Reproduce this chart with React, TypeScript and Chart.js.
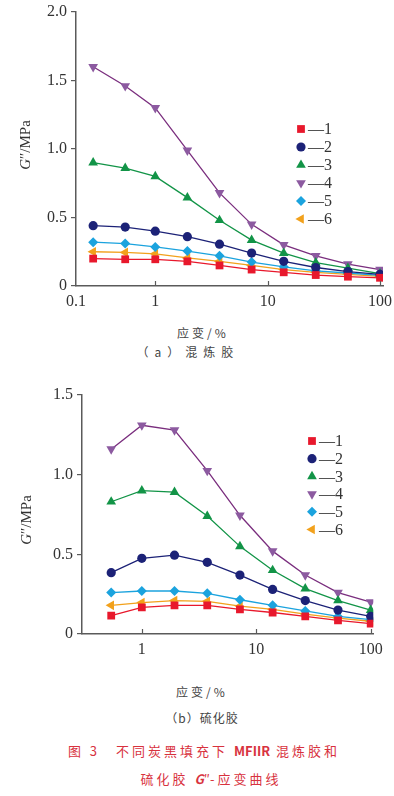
import React, { useEffect, useRef } from 'react';
import { Chart, registerables } from 'chart.js';
Chart.register(...registerables);

// ---- data ----
const strainMixed = [0.28, 0.54, 1, 1.93, 3.73, 7.2, 13.9, 26.8, 51.8, 100];
const strainCured = [0.54, 1, 1.93, 3.73, 7.2, 13.9, 26.8, 51.8, 100];
const sampleLabels = ['1', '2', '3', '4', '5', '6'];

const mixed1 = [0.2, 0.195, 0.195, 0.18, 0.15, 0.12, 0.1, 0.08, 0.068, 0.06];
const mixed2 = [0.44, 0.43, 0.4, 0.36, 0.305, 0.24, 0.18, 0.135, 0.105, 0.085];
const mixed3 = [0.9, 0.86, 0.8, 0.645, 0.48, 0.335, 0.24, 0.17, 0.13, 0.09];
const mixed4 = [1.6, 1.46, 1.3, 0.99, 0.68, 0.45, 0.3, 0.22, 0.16, 0.12];
const mixed5 = [0.32, 0.31, 0.285, 0.255, 0.22, 0.175, 0.14, 0.11, 0.095, 0.078];
const mixed6 = [0.25, 0.245, 0.235, 0.205, 0.18, 0.15, 0.12, 0.1, 0.085, 0.07];

const cured1 = [0.115, 0.167, 0.18, 0.18, 0.155, 0.135, 0.11, 0.085, 0.065];
const cured2 = [0.385, 0.475, 0.495, 0.45, 0.37, 0.28, 0.21, 0.15, 0.11];
const cured3 = [0.83, 0.9, 0.89, 0.74, 0.55, 0.4, 0.285, 0.21, 0.15];
const cured4 = [1.16, 1.31, 1.28, 1.025, 0.745, 0.52, 0.37, 0.26, 0.2];
const cured5 = [0.26, 0.27, 0.27, 0.255, 0.215, 0.18, 0.145, 0.11, 0.09];
const cured6 = [0.18, 0.197, 0.21, 0.205, 0.175, 0.155, 0.125, 0.1, 0.08];

const mixedXTickValues = [0.197, 1, 10, 100];
const mixedXTickLabels = ['0.1', '1', '10', '100'];
const curedXTickValues = [1, 10, 100];
const curedXTickLabels = ['1', '10', '100'];
const mixedYTickLabels = ['0', '0.5', '1.0', '1.5', '2.0'];
const curedYTickLabels = ['0', '0.5', '1.0', '1.5'];

// ---- styles ----
const seriesStyle = [
  { color: '#e8182c', line: '#e8182c', point: 'rect', rotation: 0, radius: 5.5 },
  { color: '#1c2277', line: '#1c2277', point: 'circle', rotation: 0, radius: 4.6 },
  { color: '#129447', line: '#129447', point: 'triangle', rotation: 0, radius: 5.6 },
  { color: '#8c5aa0', line: '#7a2e7e', point: 'triangle', rotation: 180, radius: 5.6 },
  { color: '#1ba3de', line: '#1ba3de', point: 'rectRot', rotation: 0, radius: 5 },
  { color: '#f2a11c', line: '#f2a11c', point: 'triangle', rotation: 270, radius: 5.6 },
];

const AXIS = '#5a5a5a';
const SERIF = '"Liberation Serif", "Times New Roman", serif';
const CJK = '"Noto Sans CJK SC", sans-serif';

function drawMarker(ctx: CanvasRenderingContext2D, s: any, x: number, y: number) {
  const r = s.radius;
  ctx.save();
  ctx.fillStyle = s.color;
  ctx.beginPath();
  if (s.point === 'rect') {
    const h = r * Math.SQRT1_2;
    ctx.rect(x - h, y - h, 2 * h, 2 * h);
  } else if (s.point === 'circle') {
    ctx.arc(x, y, r, 0, Math.PI * 2);
  } else if (s.point === 'rectRot') {
    ctx.moveTo(x, y - r);
    ctx.lineTo(x + r, y);
    ctx.lineTo(x, y + r);
    ctx.lineTo(x - r, y);
    ctx.closePath();
  } else {
    let rad = (s.rotation * Math.PI) / 180;
    for (let i = 0; i < 3; i++) {
      const px = x + Math.sin(rad) * r;
      const py = y - Math.cos(rad) * r;
      if (i === 0) ctx.moveTo(px, py);
      else ctx.lineTo(px, py);
      rad += (2 * Math.PI) / 3;
    }
    ctx.closePath();
  }
  ctx.fill();
  ctx.restore();
}

const customLegend = {
  id: 'customLegend',
  afterDraw(chart: any, _args: any, opts: any) {
    const ctx = chart.ctx as CanvasRenderingContext2D;
    ctx.save();
    ctx.font = `16px ${SERIF}`;
    ctx.fillStyle = '#333';
    ctx.textBaseline = 'middle';
    sampleLabels.forEach((lab, i) => {
      const y = opts.y + i * opts.gap;
      drawMarker(ctx, seriesStyle[i], opts.x, y);
      ctx.fillText('\u2014' + lab, opts.x + 7, y + 1);
    });
    ctx.restore();
  },
};

const innerTicks = {
  id: 'innerTicks',
  afterDraw(chart: any) {
    const xs = chart.scales.x;
    const ctx = chart.ctx as CanvasRenderingContext2D;
    const bottom = chart.chartArea.bottom;
    ctx.save();
    ctx.strokeStyle = AXIS;
    ctx.lineWidth = 1.2;
    xs.ticks.forEach((t: any) => {
      if (t.value <= xs.min * 1.05) return;
      const px = Math.round(xs.getPixelForValue(t.value)) + 0.5;
      ctx.beginPath();
      ctx.moveTo(px, bottom);
      ctx.lineTo(px, bottom - 5);
      ctx.stroke();
    });
    ctx.restore();
  },
};

function buildConfig(p: any) {
  const datasets = p.series.map((vals: number[], i: number) => {
    const s = seriesStyle[i];
    return {
      label: sampleLabels[i],
      data: vals.map((v, k) => ({ x: p.xs[k], y: v })),
      borderColor: s.line,
      backgroundColor: s.color,
      pointBackgroundColor: s.color,
      pointBorderColor: s.color,
      pointBorderWidth: 0,
      pointStyle: s.point,
      pointRotation: s.rotation,
      pointRadius: s.radius,
      borderWidth: 1.3,
      tension: 0,
    };
  });
  return {
    type: 'line',
    data: { datasets },
    plugins: [customLegend, innerTicks],
    options: {
      responsive: false,
      animation: false,
      devicePixelRatio: 1,
      layout: { padding: p.padding },
      plugins: {
        legend: { display: false },
        tooltip: { enabled: false },
        customLegend: p.legend,
      },
      scales: {
        x: {
          type: 'logarithmic',
          min: p.xMin,
          max: p.xMax,
          afterBuildTicks: (scale: any) => {
            scale.ticks = p.xTickValues.map((v: number) => ({ value: v }));
          },
          afterFit: (scale: any) => {
            scale.height = p.xHeight;
            scale.paddingLeft = 0;
            scale.paddingRight = 0;
          },
          grid: { display: false, drawTicks: false },
          border: { display: true, color: AXIS, width: 1.5 },
          ticks: {
            autoSkip: false,
            maxRotation: 0,
            padding: 6,
            color: '#333',
            font: { family: SERIF, size: 16 },
            callback: (_v: any, i: number) => p.xTickLabels[i],
          },
        },
        y: {
          min: 0,
          max: p.yMax,
          afterBuildTicks: (scale: any) => {
            scale.ticks = p.yTickLabels.map((_l: string, i: number) => ({ value: i * 0.5 }));
          },
          afterFit: (scale: any) => {
            scale.width = p.yWidth;
            scale.paddingTop = 0;
            scale.paddingBottom = 0;
          },
          grid: { drawOnChartArea: false, drawTicks: true, tickLength: 5, color: AXIS, lineWidth: 1.2 },
          border: { display: true, color: AXIS, width: 1.5 },
          ticks: {
            padding: 4,
            color: '#333',
            font: { family: SERIF, size: 16 },
            callback: (_v: any, i: number) => p.yTickLabels[i],
          },
        },
      },
    },
  };
}

function ChartCanvas({ top, height, params }: any) {
  const ref = useRef<HTMLCanvasElement | null>(null);
  useEffect(() => {
    if (!ref.current) return;
    const chart = new Chart(ref.current, buildConfig(params) as any);
    return () => chart.destroy();
  }, []);
  return (
    <canvas
      ref={ref}
      width={394}
      height={height}
      style={{ position: 'absolute', left: 0, top, width: 394, height }}
    />
  );
}

const mixedParams = {
  xs: strainMixed,
  series: [mixed1, mixed2, mixed3, mixed4, mixed5, mixed6],
  xMin: 0.197,
  xMax: 106.3,
  xTickValues: mixedXTickValues,
  xTickLabels: mixedXTickLabels,
  yMax: 2.0,
  yTickLabels: mixedYTickLabels,
  padding: { left: 0, top: 12, right: 11, bottom: 0 },
  yWidth: 76,
  xHeight: 24,
  legend: { x: 301, y: 129, gap: 18 },
};

const curedParams = {
  xs: strainCured,
  series: [cured1, cured2, cured3, cured4, cured5, cured6],
  xMin: 0.301,
  xMax: 105.4,
  xTickValues: curedXTickValues,
  xTickLabels: curedXTickLabels,
  yMax: 1.5,
  yTickLabels: curedYTickLabels,
  padding: { left: 0, top: 25, right: 20.7, bottom: 0 },
  yWidth: 82,
  xHeight: 36,
  legend: { x: 312, y: 71, gap: 17.7 },
};

const textAbs = (x: number, y: number, extra: any = {}) => ({
  position: 'absolute' as const,
  left: x,
  top: y,
  transform: 'translate(-50%, -50%)',
  whiteSpace: 'nowrap' as const,
  lineHeight: 1,
  ...extra,
});

export default function App() {
  useEffect(() => {
    document.body.style.margin = '0';
  }, []);
  const yTitle = (x: number, y: number) => (
    <div
      style={textAbs(x, y, {
        transform: 'translate(-50%, -50%) rotate(-90deg)',
        font: `15px ${SERIF}`,
        color: '#333',
      })}
    >
      <i>G</i>
      {'\u2033/MPa'}
    </div>
  );
  const xTitleStyle = { font: `12px ${CJK}`, letterSpacing: '3px', color: '#444' };
  const redStyle = { font: `13px ${CJK}`, letterSpacing: '3px', color: '#d8323e' };
  return (
    <div style={{ position: 'absolute', left: 0, top: 0, width: 394, height: 796, background: '#fff', overflow: 'hidden' }}>
      <ChartCanvas top={0} height={310} params={mixedParams} />
      <ChartCanvas top={370} height={300} params={curedParams} />
      {yTitle(25, 145)}
      {yTitle(26, 520)}
      <div style={textAbs(203, 332, xTitleStyle)}>应变/%</div>
      <div style={textAbs(188, 351, { font: `12px ${CJK}`, letterSpacing: '6px', color: '#444' })}>（a）混炼胶</div>
      <div style={textAbs(202, 691, xTitleStyle)}>应变/%</div>
      <div style={textAbs(202, 717, { font: `12px ${CJK}`, letterSpacing: '1px', color: '#444' })}>（b）硫化胶</div>
      <div style={textAbs(204, 750, redStyle)}>
        图 3{'\u3000'}不同炭黑填充下 <span style={{ letterSpacing: '0px', fontWeight: 700 }}>MFIIR</span> 混炼胶和
      </div>
      <div style={textAbs(211, 778, redStyle)}>
        硫化胶 <span style={{ letterSpacing: '0px', fontStyle: 'italic', fontWeight: 700 }}>G</span>
        <span style={{ letterSpacing: '0px' }}>{'\u2033'}</span>-应变曲线
      </div>
    </div>
  );
}
